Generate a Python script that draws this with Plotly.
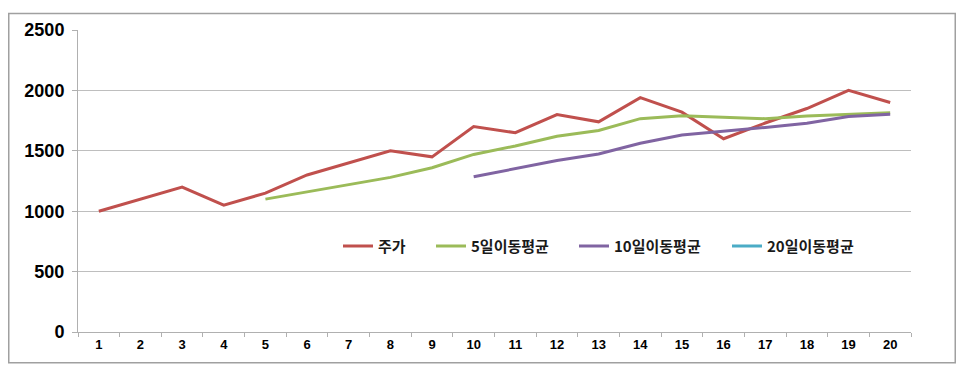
import plotly.graph_objects as go

days = [str(i) for i in range(1, 21)]
price = [1000, 1100, 1200, 1050, 1150, 1300, 1400, 1500, 1450, 1700,
         1650, 1800, 1740, 1940, 1820, 1600, 1730, 1850, 2000, 1900]
ma5 = [None, None, None, None, 1100, 1160, 1220, 1280, 1360, 1470,
       1540, 1620, 1668, 1766, 1790, 1780, 1766, 1788, 1800, 1816]
ma10 = [None] * 9 + [1285, 1350, 1420, 1474, 1563, 1630, 1660, 1693, 1728, 1783, 1803]
ma20 = [None] * 19 + [1571]

names = ["주가", "5일이동평균", "10일이동평균", "20일이동평균"]
colors = ["#C0504D", "#9BBB59", "#8064A2", "#4BACC6"]
series = [price, ma5, ma10, ma20]
legend_ids = ["legend", "legend2", "legend3", "legend4"]
legend_px = [335, 428, 571, 724]

W, H = 948, 356
L, R, T, B = 70, 45, 17.5, 32
pw, ph = W - L - R, H - T - B

def px_x(x):
    return (x - L) / pw

def px_y(y):
    return (H - B - y) / ph

fig = go.Figure()
for name, col, vals, lid in zip(names, colors, series, legend_ids):
    fig.add_trace(go.Scatter(x=days, y=vals, name=name, mode="lines",
                             line=dict(color=col, width=3), connectgaps=False,
                             legend=lid))

fig.add_shape(type="rect", xref="paper", yref="paper",
              x0=px_x(0.75), x1=px_x(W - 0.75), y0=px_y(H - 0.75), y1=px_y(0.75),
              line=dict(color="#A0A0A0", width=1.5), layer="below")

legend_font = dict(family="Noto Sans CJK KR", size=15, color="#1a1a1a", weight="bold")
legends = {}
for lid, lx in zip(legend_ids, legend_px):
    legends[lid] = dict(orientation="h", x=px_x(lx - 5), xanchor="left",
                        y=px_y(237), yanchor="middle", font=legend_font,
                        itemwidth=30, bgcolor="rgba(0,0,0,0)")

fig.update_layout(
    width=W, height=H,
    margin=dict(l=L, r=R, t=T, b=B),
    plot_bgcolor="white", paper_bgcolor="white",
    showlegend=True,
    xaxis=dict(type="category", showline=True, linecolor="#B0B0B0", linewidth=1,
               ticks="outside", tickson="boundaries", ticklen=4, tickcolor="#B0B0B0",
               showgrid=False, range=[-0.5, 19.5],
               tickfont=dict(family="Liberation Sans", size=13, color="black", weight="bold")),
    yaxis=dict(range=[0, 2500], dtick=500, showline=True, linecolor="#B0B0B0", linewidth=1,
               ticks="outside", ticklen=5, tickcolor="#B0B0B0",
               showgrid=True, gridcolor="#BEBEBE", gridwidth=1, zeroline=False,
               ticklabelstandoff=4,
               tickfont=dict(family="Liberation Sans", size=18, color="black", weight="bold")),
    **legends,
)

fig.write_html("out.html")
